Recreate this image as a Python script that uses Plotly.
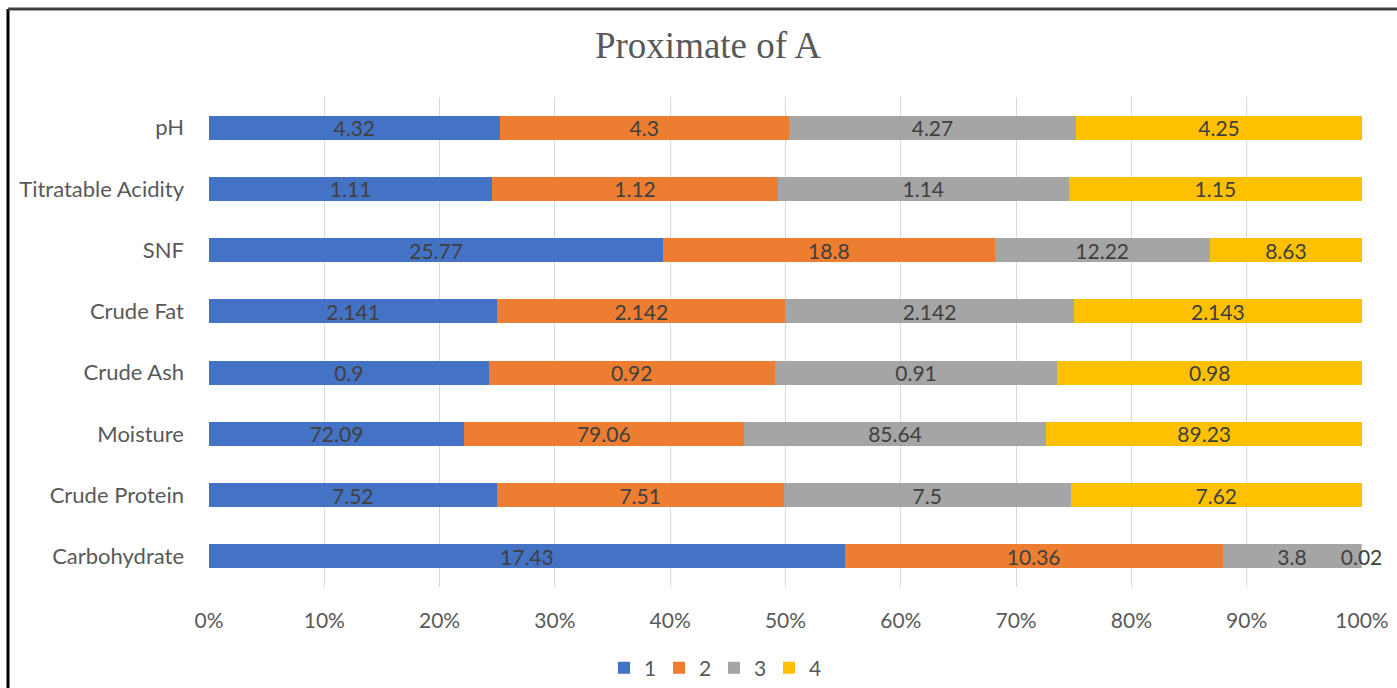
import plotly.graph_objects as go

# Proximate composition across four samples (drawn as 100% stacked bars)
categories = ["pH", "Titratable Acidity", "SNF", "Crude Fat", "Crude Ash",
              "Moisture", "Crude Protein", "Carbohydrate"]
series_names = ["1", "2", "3", "4"]
sample_1 = [4.32, 1.11, 25.77, 2.141, 0.9, 72.09, 7.52, 17.43]
sample_2 = [4.3, 1.12, 18.8, 2.142, 0.92, 79.06, 7.51, 10.36]
sample_3 = [4.27, 1.14, 12.22, 2.142, 0.91, 85.64, 7.5, 3.8]
sample_4 = [4.25, 1.15, 8.63, 2.143, 0.98, 89.23, 7.62, 0.02]
series_values = [sample_1, sample_2, sample_3, sample_4]
x_ticks = list(range(0, 101, 10))
x_tick_labels = [f"{t}%" for t in x_ticks]

colors = ["#4472C4", "#ED7D31", "#A5A5A5", "#FFC000"]
sans = "Lato, Open Sans, sans-serif"

W, H = 1397, 688
L, R, T, B = 209, 1362, 97, 587  # plot area in pixels

fig = go.Figure()
for name, vals, col in zip(series_names, series_values, colors):
    fig.add_trace(go.Bar(
        y=categories, x=vals, name=name, orientation="h",
        marker=dict(color=col, line=dict(width=0)),
        text=[f"{v:g}" for v in vals], texttemplate="%{text}",
        textposition="inside", insidetextanchor="middle", textangle=0,
        constraintext="none", cliponaxis=False,
        textfont=dict(family=sans, size=21, color="#404040"),
        hoverinfo="skip",
    ))


def px_x(px):
    return (px - L) / (R - L)


def px_y(py):
    return (B - py) / (B - T)


# Outer frame (left and top edges)
shapes = [
    dict(type="line", xref="paper", yref="paper", x0=px_x(8), x1=px_x(8),
         y0=px_y(9), y1=px_y(700), line=dict(color="#000000", width=3)),
    dict(type="line", xref="paper", yref="paper", x0=px_x(8), x1=px_x(1410),
         y0=px_y(9), y1=px_y(9), line=dict(color="#404040", width=3)),
]

fig.update_layout(
    width=W, height=H,
    margin=dict(l=L, r=W - R, t=T, b=H - B, pad=0, autoexpand=False),
    paper_bgcolor="white", plot_bgcolor="white",
    barmode="stack", barnorm="percent", bargap=0.61,
    title=dict(text="Proximate of A", x=708 / W, xanchor="center",
               y=1 - 45 / H, yanchor="middle",
               font=dict(family="Liberation Serif, Times New Roman, serif",
                         size=37, color="#595959")),
    xaxis=dict(range=[0, 100.0005], tickvals=x_ticks, ticktext=x_tick_labels,
               showgrid=True, gridcolor="#D9D9D9", gridwidth=1,
               zeroline=False, showline=False, ticks="",
               ticklabelstandoff=19,
               tickfont=dict(family=sans, size=21, color="#595959")),
    yaxis=dict(autorange="reversed", showgrid=False, zeroline=False,
               showline=False, ticks="", ticklabelstandoff=24,
               tickfont=dict(family=sans, size=22, color="#595959")),
    legend=dict(orientation="h", xref="container", yref="container",
                x=714 / W, xanchor="center",
                y=1 - 668 / H, yanchor="middle",
                font=dict(family=sans, size=21, color="#595959"),
                itemwidth=30, entrywidth=10, traceorder="normal"),
    shapes=shapes,
    showlegend=True,
)

fig.write_html("out.html")
